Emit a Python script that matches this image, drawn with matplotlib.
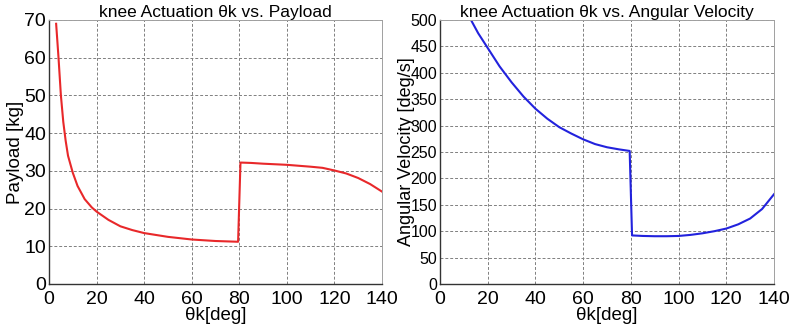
import matplotlib.pyplot as plt
import numpy as np

plt.rcParams['font.family'] = ['Liberation Sans', 'DejaVu Sans']

# knee angle samples [deg]
theta_pay = [3, 4, 5, 6, 7, 8, 10, 12, 15, 18, 20, 25, 30, 35, 40, 50, 60, 70, 79.5,
             80.5, 85, 90, 100, 110, 115, 120, 125, 130, 135, 140]
payload = [69, 60, 50, 43, 38, 34, 29.5, 26, 22.5, 20.3, 19.2, 17, 15.3, 14.3, 13.5,
           12.5, 11.8, 11.4, 11.2,
           32.2, 32.1, 31.9, 31.6, 31.1, 30.8, 30.1, 29.3, 28.1, 26.5, 24.5]

theta_vel = [13, 16, 20, 25, 30, 35, 40, 45, 50, 55, 60, 65, 70, 75, 79.5,
             80.5, 85, 90, 95, 100, 105, 110, 115, 120, 125, 130, 135, 140]
ang_vel = [500, 475, 447, 412, 382, 355, 332, 313, 297, 285, 274, 265, 259, 255, 252,
           92, 91, 90.5, 90.5, 91, 93, 96, 100, 105, 113, 124, 142, 170]

fig = plt.figure(figsize=(8, 3.27), dpi=100)

ax1 = fig.add_axes([49 / 800, 43 / 327, 333 / 800, 264 / 327])
ax2 = fig.add_axes([440 / 800, 43 / 327, 334 / 800, 264 / 327])

ax1.plot(theta_pay, payload, color='#e8282a', lw=1.5)
ax1.set_xlim(0, 140)
ax1.set_ylim(0, 70)
ax1.set_yticks(np.arange(0, 71, 10))
ax1.set_title('knee Actuation θk vs. Payload', fontsize=12.5, pad=2)
ax1.set_ylabel('Payload [kg]', fontsize=13.5, labelpad=0)
ax1.tick_params(axis='y', labelsize=14)

ax2.plot(theta_vel, ang_vel, color='#2222dd', lw=1.5)
ax2.set_xlim(0, 140)
ax2.set_ylim(0, 500)
ax2.set_yticks(np.arange(0, 501, 50))
ax2.set_title('knee Actuation θk vs. Angular Velocity', fontsize=12.5, pad=2)
ax2.set_ylabel('Angular Velocity [deg/s]', fontsize=13)
ax2.yaxis.set_label_coords(-0.075, 0.5)
ax2.tick_params(axis='y', labelsize=11.5)

for ax in (ax1, ax2):
    ax.set_xticks(np.arange(0, 141, 20))
    ax.set_xlabel('θk[deg]', fontsize=13.5, labelpad=-1)
    ax.grid(True, color='#808080', ls=(0, (3, 2)), lw=0.7)
    ax.tick_params(length=0, pad=2)
    ax.tick_params(axis='x', labelsize=14, pad=5)
    for side in ('top', 'right'):
        ax.spines[side].set_color('#a0a0a0')
        ax.spines[side].set_linewidth(0.7)
    for side in ('left', 'bottom'):
        ax.spines[side].set_color('#333333')
        ax.spines[side].set_linewidth(1.0)

fig.savefig('out.png', dpi=100)
